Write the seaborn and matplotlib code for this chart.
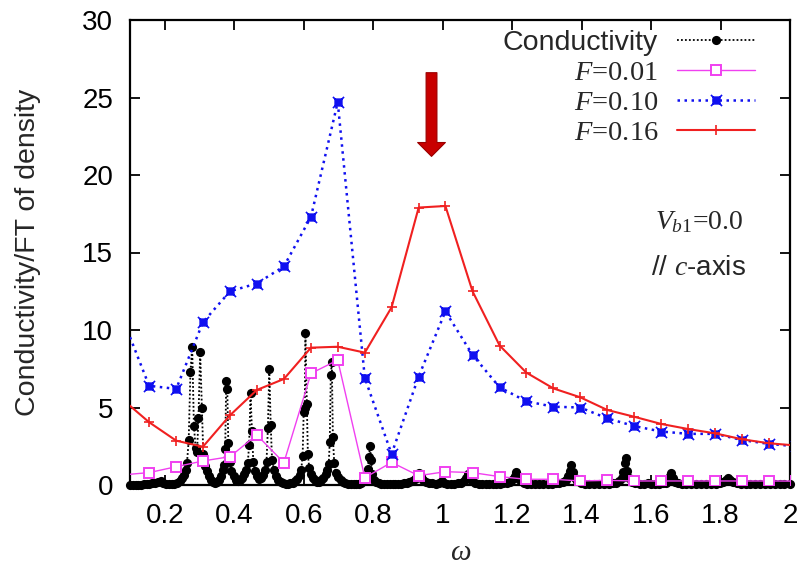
import matplotlib
matplotlib.use("Agg")
import matplotlib.pyplot as plt
from matplotlib.lines import Line2D
from matplotlib.path import Path
import pandas as pd
import seaborn as sns

# --- data -------------------------------------------------------------
# driving-field spectra (sampled frequencies)
omega_f = [0.078, 0.155, 0.233, 0.310, 0.388, 0.465, 0.543, 0.621, 0.698,
           0.776, 0.853, 0.931, 1.008, 1.086, 1.164, 1.241, 1.319, 1.396,
           1.474, 1.552, 1.629, 1.707, 1.785, 1.862, 1.940, 2.017]
ft_f001 = [0.65, 0.80, 1.18, 1.55, 1.83, 3.23, 1.44, 7.20, 8.06, 0.47, 1.46,
           0.60, 0.86, 0.80, 0.54, 0.37, 0.37, 0.26, 0.30, 0.26, 0.26, 0.26,
           0.26, 0.26, 0.26, 0.25]
ft_f010 = [10.8, 6.40, 6.20, 10.5, 12.5, 13.0, 14.1, 17.3, 24.7, 6.90, 2.00,
           7.00, 11.2, 8.40, 6.30, 5.40, 5.05, 5.00, 4.30, 3.80, 3.45, 3.30,
           3.30, 2.90, 2.65, 2.50]
ft_f016 = [5.53, 4.05, 2.86, 2.47, 4.50, 6.13, 6.84, 8.86, 8.92, 8.54, 11.46,
           17.9, 18.0, 12.5, 9.00, 7.25, 6.23, 5.66, 4.84, 4.40, 3.94, 3.61,
           3.33, 2.95, 2.69, 2.55]

# optical conductivity on a fine frequency grid
omega_cond = [
    0.100, 0.108, 0.116, 0.124, 0.132, 0.140, 0.148, 0.156, 0.164, 0.172,
    0.180, 0.188, 0.196, 0.204, 0.212, 0.220, 0.228, 0.236, 0.244, 0.250,
    0.255, 0.260, 0.264, 0.269, 0.274, 0.279, 0.284, 0.289, 0.293, 0.297,
    0.302, 0.307, 0.311, 0.316, 0.321, 0.327, 0.333, 0.339, 0.345, 0.351,
    0.357, 0.362, 0.367, 0.371, 0.374, 0.377, 0.380, 0.383, 0.387, 0.392,
    0.398, 0.404, 0.410, 0.416, 0.422, 0.428, 0.434, 0.439, 0.443, 0.447,
    0.451, 0.455, 0.460, 0.466, 0.472, 0.478, 0.484, 0.489, 0.493, 0.497,
    0.501, 0.505, 0.509, 0.514, 0.520, 0.527, 0.534, 0.541, 0.548, 0.555,
    0.562, 0.569, 0.576, 0.582, 0.588, 0.593, 0.597, 0.600, 0.603, 0.605,
    0.609, 0.612, 0.616, 0.621, 0.627, 0.633, 0.639, 0.645, 0.651, 0.657,
    0.663, 0.668, 0.672, 0.675, 0.678, 0.681, 0.684, 0.688, 0.693, 0.699,
    0.706, 0.713, 0.720, 0.728, 0.736, 0.744, 0.752, 0.759, 0.766, 0.772,
    0.777, 0.781, 0.785, 0.788, 0.791, 0.794, 0.798, 0.803, 0.809, 0.816,
    0.824, 0.832, 0.840, 0.848, 0.856, 0.864, 0.872, 0.880, 0.888, 0.896,
    0.904, 0.912, 0.920, 0.927, 0.933, 0.938, 0.944, 0.952, 0.960, 0.970,
    0.980, 0.990, 0.997, 1.004, 1.014, 1.024, 1.034, 1.044, 1.054, 1.062,
    1.068, 1.073, 1.078, 1.085, 1.094, 1.104, 1.114, 1.124, 1.134, 1.144,
    1.154, 1.164, 1.174, 1.184, 1.194, 1.202, 1.208, 1.212, 1.217, 1.224,
    1.234, 1.244, 1.254, 1.266, 1.278, 1.290, 1.302, 1.314, 1.326, 1.336,
    1.346, 1.354, 1.361, 1.366, 1.370, 1.374, 1.380, 1.388, 1.398, 1.410,
    1.422, 1.436, 1.450, 1.464, 1.478, 1.490, 1.500, 1.508, 1.515, 1.520,
    1.524, 1.527, 1.531, 1.537, 1.545, 1.555, 1.567, 1.580, 1.592, 1.600,
    1.612, 1.624, 1.634, 1.642, 1.649, 1.654, 1.657, 1.662, 1.669, 1.679,
    1.690, 1.702, 1.716, 1.730, 1.744, 1.758, 1.772, 1.786, 1.798, 1.808,
    1.816, 1.822, 1.828, 1.836, 1.846, 1.858, 1.872, 1.886, 1.900, 1.914,
    1.928, 1.942, 1.956, 1.970, 1.984, 2.000]
sigma_cond = [
    0.02, 0.02, 0.02, 0.03, 0.03, 0.04, 0.05, 0.07, 0.10, 0.14,
    0.20, 0.24, 0.16, 0.08, 0.05, 0.05, 0.08, 0.14, 0.25, 0.42,
    0.65, 0.95, 1.40, 2.90, 7.30, 8.90, 3.80, 2.40, 2.10, 4.30,
    8.60, 5.00, 2.00, 1.20, 0.90, 0.60, 0.35, 0.20, 0.15, 0.20,
    0.35, 0.60, 0.95, 1.30, 2.30, 6.70, 6.20, 2.70, 1.50, 0.90,
    0.55, 0.35, 0.25, 0.30, 0.45, 0.70, 1.00, 1.40, 2.60, 5.95,
    3.50, 1.50, 0.90, 0.55, 0.40, 0.45, 0.65, 1.00, 1.50, 3.70,
    7.50, 3.90, 1.60, 1.00, 0.60, 0.35, 0.20, 0.12, 0.08, 0.08,
    0.10, 0.15, 0.25, 0.40, 0.65, 1.00, 1.90, 4.70, 5.00, 9.80,
    5.20, 2.00, 1.10, 0.70, 0.45, 0.30, 0.22, 0.22, 0.30, 0.45,
    0.70, 1.00, 1.33, 2.75, 7.10, 7.96, 3.10, 1.40, 0.80, 0.50,
    0.30, 0.18, 0.10, 0.06, 0.04, 0.04, 0.05, 0.08, 0.14, 0.25,
    0.45, 0.60, 1.03, 1.83, 2.50, 1.60, 0.70, 0.35, 0.20, 0.12,
    0.08, 0.06, 0.05, 0.05, 0.05, 0.06, 0.07, 0.08, 0.10, 0.13,
    0.18, 0.25, 0.38, 0.55, 0.80, 0.55, 0.35, 0.22, 0.15, 0.10,
    0.08, 0.10, 0.25, 0.10, 0.07, 0.07, 0.08, 0.10, 0.15, 0.25,
    0.45, 0.70, 0.50, 0.28, 0.15, 0.09, 0.07, 0.06, 0.06, 0.06,
    0.07, 0.08, 0.10, 0.14, 0.22, 0.38, 0.60, 0.86, 0.55, 0.30,
    0.15, 0.09, 0.07, 0.06, 0.06, 0.06, 0.07, 0.08, 0.10, 0.14,
    0.22, 0.35, 0.60, 0.90, 1.28, 0.86, 0.45, 0.25, 0.14, 0.09,
    0.07, 0.06, 0.06, 0.07, 0.08, 0.11, 0.16, 0.26, 0.45, 0.86,
    1.40, 1.72, 0.90, 0.45, 0.22, 0.12, 0.08, 0.07, 0.12, 0.07,
    0.07, 0.08, 0.10, 0.16, 0.30, 0.55, 0.75, 0.45, 0.22, 0.12,
    0.08, 0.06, 0.05, 0.05, 0.05, 0.06, 0.07, 0.09, 0.13, 0.20,
    0.32, 0.47, 0.32, 0.18, 0.10, 0.07, 0.05, 0.05, 0.04, 0.04,
    0.04, 0.04, 0.04, 0.04, 0.04, 0.04]

legend_labels = ["Conductivity", r"$F$=0.01", r"$F$=0.10", r"$F$=0.16"]
xtick_values = [0.2, 0.4, 0.6, 0.8, 1.0, 1.2, 1.4, 1.6, 1.8, 2.0]
xtick_labels = ["0.2", "0.4", "0.6", "0.8", "1", "1.2", "1.4", "1.6", "1.8", "2"]
ytick_values = [0, 5, 10, 15, 20, 25, 30]
ytick_labels = ["0", "5", "10", "15", "20", "25", "30"]

# --- style ------------------------------------------------------------
sns.set_theme(style="ticks")
plt.rcParams["font.family"] = ["Liberation Sans", "DejaVu Sans"]
plt.rcParams["mathtext.fontset"] = "custom"
plt.rcParams["mathtext.rm"] = "Liberation Serif"
plt.rcParams["mathtext.it"] = "Liberation Serif:italic"

C_COND = "black"
C_F001 = "#f040f0"
C_F010 = "#1010f0"
C_F016 = "#f02020"

# filled square with diagonal arms (gnuplot-like star point)
star_box = Path(
    [(-0.6, -0.6), (0.6, -0.6), (0.6, 0.6), (-0.6, 0.6), (-0.6, -0.6),
     (-1, -1), (1, 1), (-1, 1), (1, -1)],
    [Path.MOVETO, Path.LINETO, Path.LINETO, Path.LINETO, Path.CLOSEPOLY,
     Path.MOVETO, Path.LINETO, Path.MOVETO, Path.LINETO])

styles = {
    "cond": dict(color=C_COND, lw=1.3, linestyle=(0, (1, 1.2)), marker="o",
                 markersize=6.6, markeredgewidth=0, markerfacecolor=C_COND),
    "f001": dict(color=C_F001, lw=1.0, linestyle="-", marker="s",
                 markersize=7, markeredgewidth=1.4, markerfacecolor="white",
                 markeredgecolor=C_F001),
    "f010": dict(color=C_F010, lw=1.8, linestyle=(0, (1, 1.8)), marker=star_box,
                 markersize=8, markeredgewidth=1.2, markerfacecolor=C_F010,
                 markeredgecolor=C_F010),
    "f016": dict(color=C_F016, lw=1.5, linestyle="-", marker="+",
                 markersize=7, markeredgewidth=1.2, markeredgecolor=C_F016),
}

fig = plt.figure(figsize=(8.04, 5.72), dpi=100)
ax = fig.add_axes([130 / 804, 1 - 485 / 572, 660 / 804, 465 / 572])

df_cond = pd.DataFrame({"omega": omega_cond, "value": sigma_cond})
df_f = pd.DataFrame({"omega": omega_f, "f001": ft_f001,
                     "f010": ft_f010, "f016": ft_f016})

sns.lineplot(data=df_cond, x="omega", y="value", ax=ax, estimator=None,
             sort=False, clip_on=False, zorder=2, **styles["cond"])
for key, z in (("f001", 3), ("f010", 4), ("f016", 5)):
    sns.lineplot(data=df_f, x="omega", y=key, ax=ax, estimator=None,
                 sort=False, zorder=z, **styles[key])

ax.set_xlim(0.1, 2.0)
ax.set_ylim(0, 30)
ax.set_xticks(xtick_values)
ax.set_xticklabels(xtick_labels)
ax.set_yticks(ytick_values)
ax.set_yticklabels(ytick_labels)
ax.tick_params(axis="both", direction="in", top=True, right=True,
               length=7, width=1.3, labelsize=20, colors="black")
ax.tick_params(axis="x", pad=13)
ax.tick_params(axis="y", pad=12)
for sp in ax.spines.values():
    sp.set_visible(True)
    sp.set_linewidth(1.6)
    sp.set_color("black")

ax.set_xlabel("ω", fontsize=21, fontstyle="italic", family="Liberation Serif")
ax.xaxis.set_label_coords(0.5, -(553 - 485) / 465)
ax.xaxis.label.set_va("center")
ax.set_ylabel("Conductivity/FT of density", fontsize=20.5)
ax.yaxis.set_label_coords(-(130 - 28) / 660, 0.5)
ax.yaxis.label.set_va("center")

# legend with handles after the labels
handles = [Line2D([], [], **styles[k]) for k in ("cond", "f001", "f010", "f016")]
leg = ax.legend(handles, legend_labels, loc="upper right",
                bbox_to_anchor=(755 / 804, 1 - 30 / 572),
                bbox_transform=fig.transFigure, frameon=False,
                markerfirst=False, fontsize=20.5, handlelength=2.75,
                handletextpad=0.65, labelspacing=0.14, borderpad=0,
                borderaxespad=0)
for i, t in enumerate(leg.get_texts()):
    t.set_family("Liberation Sans" if i == 0 else "Liberation Serif")

# annotations
ax.text((699 - 130) / 660, (485 - 222) / 465, r"$V_{b1}$=0.0",
        transform=ax.transAxes, ha="center", va="center", fontsize=20,
        family="Liberation Serif")
ax.text((699 - 130) / 660, (485 - 268) / 465, r"// $c$-axis",
        transform=ax.transAxes, ha="center", va="center", fontsize=20,
        family="Liberation Sans")

ax.annotate("", xy=(0.968, 21.2), xytext=(0.968, 26.6),
            arrowprops=dict(arrowstyle="simple,head_length=1.0,head_width=2.0,tail_width=0.78",
                            mutation_scale=10, fc="#c80000", ec="#9a0000",
                            lw=0.8, shrinkA=0, shrinkB=0))

fig.savefig("out.png", dpi=100)
